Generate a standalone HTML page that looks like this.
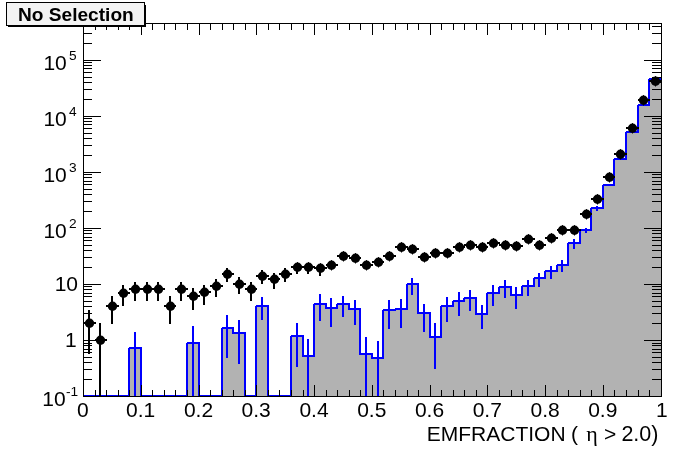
<!DOCTYPE html><html><head><meta charset="utf-8"><title>No Selection</title>
<style>html,body{margin:0;padding:0;background:#fff}svg{display:block}text{font-family:"Liberation Sans",Arial,Helvetica,sans-serif;fill:#000}.s{font-family:"Liberation Serif","DejaVu Serif",serif}</style></head><body>
<svg width="696" height="472" viewBox="0 0 696 472">
<rect width="696" height="472" fill="#fff"/>
<g shape-rendering="crispEdges">
<path d="M84,396H95V396H106V396H118V396H129V348H141V396H152V396H164V396H175V396H187V343H199V396H210V396H222V328H233V333H245V396H256V306H268V396H279V396H291V336H303V356H314V304H326V308H337V304H349V309H360V354H372V358H383V310H395V309H407V284H418V313H430V337H441V306H453V301H464V298H476V314H487V293H499V287H511V295H522V286H534V278H545V271H557V265H568V243H580V230H591V208H603V185H614V159H626V132H638V105H649V79H661V397H83Z" fill="#b2b2b2" stroke="none"/>
<path d="M84,396H95V396H106V396H118V396H129V348H141V396H152V396H164V396H175V396H187V343H199V396H210V396H222V328H233V333H245V396H256V306H268V396H279V396H291V336H303V356H314V304H326V308H337V304H349V309H360V354H372V358H383V310H395V309H407V284H418V313H430V337H441V306H453V301H464V298H476V314H487V293H499V287H511V295H522V286H534V278H545V271H557V265H568V243H580V230H591V208H603V185H614V159H626V132H638V105H649V79H661" fill="none" stroke="#0000ff" stroke-width="2" stroke-linejoin="miter"/>
<path d="M128,347h1v1h-1zM186,342h1v1h-1zM221,327h1v1h-1zM255,305h1v1h-1zM290,335h1v1h-1zM313,303h1v1h-1zM336,303h1v1h-1zM382,309h1v1h-1zM394,308h1v1h-1zM406,283h1v1h-1zM440,305h1v1h-1zM452,300h1v1h-1zM463,297h1v1h-1zM486,292h1v1h-1zM498,286h1v1h-1zM521,285h1v1h-1zM533,277h1v1h-1zM544,270h1v1h-1zM556,264h1v1h-1zM567,242h1v1h-1zM579,229h1v1h-1zM590,207h1v1h-1zM602,184h1v1h-1zM613,158h1v1h-1zM625,131h1v1h-1zM637,104h1v1h-1zM648,78h1v1h-1z" fill="#fff" stroke="none"/>
<line x1="135" x2="135" y1="332" y2="397" stroke="#0000ff" stroke-width="2"/>
<line x1="193" x2="193" y1="326" y2="397" stroke="#0000ff" stroke-width="2"/>
<line x1="227" x2="227" y1="315" y2="358" stroke="#0000ff" stroke-width="2"/>
<line x1="239" x2="239" y1="320" y2="364" stroke="#0000ff" stroke-width="2"/>
<line x1="262" x2="262" y1="297" y2="320" stroke="#0000ff" stroke-width="2"/>
<line x1="297" x2="297" y1="323" y2="367" stroke="#0000ff" stroke-width="2"/>
<line x1="308" x2="308" y1="339" y2="397" stroke="#0000ff" stroke-width="2"/>
<line x1="320" x2="320" y1="294" y2="321" stroke="#0000ff" stroke-width="2"/>
<line x1="331" x2="331" y1="298" y2="327" stroke="#0000ff" stroke-width="2"/>
<line x1="343" x2="343" y1="296" y2="317" stroke="#0000ff" stroke-width="2"/>
<line x1="355" x2="355" y1="300" y2="325" stroke="#0000ff" stroke-width="2"/>
<line x1="366" x2="366" y1="337" y2="397" stroke="#0000ff" stroke-width="2"/>
<line x1="378" x2="378" y1="341" y2="397" stroke="#0000ff" stroke-width="2"/>
<line x1="389" x2="389" y1="300" y2="329" stroke="#0000ff" stroke-width="2"/>
<line x1="401" x2="401" y1="299" y2="328" stroke="#0000ff" stroke-width="2"/>
<line x1="412" x2="412" y1="278" y2="295" stroke="#0000ff" stroke-width="2"/>
<line x1="424" x2="424" y1="304" y2="332" stroke="#0000ff" stroke-width="2"/>
<line x1="435" x2="435" y1="323" y2="369" stroke="#0000ff" stroke-width="2"/>
<line x1="447" x2="447" y1="297" y2="322" stroke="#0000ff" stroke-width="2"/>
<line x1="459" x2="459" y1="292" y2="316" stroke="#0000ff" stroke-width="2"/>
<line x1="470" x2="470" y1="290" y2="311" stroke="#0000ff" stroke-width="2"/>
<line x1="482" x2="482" y1="305" y2="329" stroke="#0000ff" stroke-width="2"/>
<line x1="493" x2="493" y1="285" y2="306" stroke="#0000ff" stroke-width="2"/>
<line x1="505" x2="505" y1="280" y2="298" stroke="#0000ff" stroke-width="2"/>
<line x1="516" x2="516" y1="287" y2="309" stroke="#0000ff" stroke-width="2"/>
<line x1="528" x2="528" y1="280" y2="296" stroke="#0000ff" stroke-width="2"/>
<line x1="539" x2="539" y1="273" y2="287" stroke="#0000ff" stroke-width="2"/>
<line x1="551" x2="551" y1="266" y2="279" stroke="#0000ff" stroke-width="2"/>
<line x1="562" x2="562" y1="260" y2="272" stroke="#0000ff" stroke-width="2"/>
<line x1="574" x2="574" y1="239" y2="249" stroke="#0000ff" stroke-width="2"/>
<line x1="586" x2="586" y1="228" y2="233" stroke="#0000ff" stroke-width="2"/>
<line x1="597" x2="597" y1="206" y2="211" stroke="#0000ff" stroke-width="2"/>
</g>
<g shape-rendering="crispEdges" stroke="#000" stroke-width="1" fill="none">
<rect x="83.5" y="23.5" width="578.0" height="373"/>
<path d="M83.5,396v-11M83.5,24v11M95.5,396v-6M95.5,24v6M106.5,396v-6M106.5,24v6M118.5,396v-6M118.5,24v6M129.5,396v-6M129.5,24v6M141.5,396v-11M141.5,24v11M152.5,396v-6M152.5,24v6M164.5,396v-6M164.5,24v6M175.5,396v-6M175.5,24v6M187.5,396v-6M187.5,24v6M199.5,396v-11M199.5,24v11M210.5,396v-6M210.5,24v6M222.5,396v-6M222.5,24v6M233.5,396v-6M233.5,24v6M245.5,396v-6M245.5,24v6M256.5,396v-11M256.5,24v11M268.5,396v-6M268.5,24v6M279.5,396v-6M279.5,24v6M291.5,396v-6M291.5,24v6M303.5,396v-6M303.5,24v6M314.5,396v-11M314.5,24v11M326.5,396v-6M326.5,24v6M337.5,396v-6M337.5,24v6M349.5,396v-6M349.5,24v6M360.5,396v-6M360.5,24v6M372.5,396v-11M372.5,24v11M383.5,396v-6M383.5,24v6M395.5,396v-6M395.5,24v6M407.5,396v-6M407.5,24v6M418.5,396v-6M418.5,24v6M430.5,396v-11M430.5,24v11M441.5,396v-6M441.5,24v6M453.5,396v-6M453.5,24v6M464.5,396v-6M464.5,24v6M476.5,396v-6M476.5,24v6M487.5,396v-11M487.5,24v11M499.5,396v-6M499.5,24v6M511.5,396v-6M511.5,24v6M522.5,396v-6M522.5,24v6M534.5,396v-6M534.5,24v6M545.5,396v-11M545.5,24v11M557.5,396v-6M557.5,24v6M568.5,396v-6M568.5,24v6M580.5,396v-6M580.5,24v6M591.5,396v-6M591.5,24v6M603.5,396v-11M603.5,24v11M614.5,396v-6M614.5,24v6M626.5,396v-6M626.5,24v6M638.5,396v-6M638.5,24v6M649.5,396v-6M649.5,24v6M661.5,396v-11M661.5,24v11M83.5,379.5h8M661.5,379.5h-10M83.5,369.5h8M661.5,369.5h-10M83.5,362.5h8M661.5,362.5h-10M83.5,357.5h8M661.5,357.5h-10M83.5,352.5h8M661.5,352.5h-10M83.5,349.5h8M661.5,349.5h-10M83.5,345.5h8M661.5,345.5h-10M83.5,343.5h8M661.5,343.5h-10M83.5,340.5h17M661.5,340.5h-18M83.5,323.5h8M661.5,323.5h-10M83.5,313.5h8M661.5,313.5h-10M83.5,306.5h8M661.5,306.5h-10M83.5,301.5h8M661.5,301.5h-10M83.5,296.5h8M661.5,296.5h-10M83.5,293.5h8M661.5,293.5h-10M83.5,289.5h8M661.5,289.5h-10M83.5,286.5h8M661.5,286.5h-10M83.5,284.5h17M661.5,284.5h-18M83.5,267.5h8M661.5,267.5h-10M83.5,257.5h8M661.5,257.5h-10M83.5,250.5h8M661.5,250.5h-10M83.5,245.5h8M661.5,245.5h-10M83.5,240.5h8M661.5,240.5h-10M83.5,237.5h8M661.5,237.5h-10M83.5,233.5h8M661.5,233.5h-10M83.5,230.5h8M661.5,230.5h-10M83.5,228.5h17M661.5,228.5h-18M83.5,211.5h8M661.5,211.5h-10M83.5,201.5h8M661.5,201.5h-10M83.5,194.5h8M661.5,194.5h-10M83.5,189.5h8M661.5,189.5h-10M83.5,184.5h8M661.5,184.5h-10M83.5,181.5h8M661.5,181.5h-10M83.5,177.5h8M661.5,177.5h-10M83.5,174.5h8M661.5,174.5h-10M83.5,172.5h17M661.5,172.5h-18M83.5,155.5h8M661.5,155.5h-10M83.5,145.5h8M661.5,145.5h-10M83.5,138.5h8M661.5,138.5h-10M83.5,133.5h8M661.5,133.5h-10M83.5,128.5h8M661.5,128.5h-10M83.5,124.5h8M661.5,124.5h-10M83.5,121.5h8M661.5,121.5h-10M83.5,118.5h8M661.5,118.5h-10M83.5,116.5h17M661.5,116.5h-18M83.5,99.5h8M661.5,99.5h-10M83.5,89.5h8M661.5,89.5h-10M83.5,82.5h8M661.5,82.5h-10M83.5,77.5h8M661.5,77.5h-10M83.5,72.5h8M661.5,72.5h-10M83.5,68.5h8M661.5,68.5h-10M83.5,65.5h8M661.5,65.5h-10M83.5,62.5h8M661.5,62.5h-10M83.5,60.5h17M661.5,60.5h-18M83.5,43.5h8M661.5,43.5h-10M83.5,33.5h8M661.5,33.5h-10M83.5,26.5h8M661.5,26.5h-10"/>
</g>
<g stroke="#000" stroke-width="2" fill="#000">
<path shape-rendering="crispEdges" d="M83,323H96M89,310V323M89,323V354" fill="none"/>
<circle cx="89.5" cy="323.3" r="4.7" stroke="none"/><path d="M89.5,318.1v10.4" stroke-width="1"/>
<path shape-rendering="crispEdges" d="M95,340H107M100,323V340M100,340V397" fill="none"/>
<circle cx="100.5" cy="340.3" r="4.7" stroke="none"/><path d="M100.5,335.1v10.4" stroke-width="1"/>
<path shape-rendering="crispEdges" d="M106,306H119M112,296V306M112,306V324" fill="none"/>
<circle cx="112.5" cy="306.3" r="4.7" stroke="none"/><path d="M112.5,301.1v10.4" stroke-width="1"/>
<path shape-rendering="crispEdges" d="M118,293H130M123,285V293M123,293V306" fill="none"/>
<circle cx="123.5" cy="293.3" r="4.7" stroke="none"/><path d="M123.5,288.1v10.4" stroke-width="1"/>
<path shape-rendering="crispEdges" d="M129,289H142M135,282V289M135,289V301" fill="none"/>
<circle cx="135.5" cy="289.3" r="4.7" stroke="none"/><path d="M135.5,284.1v10.4" stroke-width="1"/>
<path shape-rendering="crispEdges" d="M141,289H153M147,282V289M147,289V301" fill="none"/>
<circle cx="147.5" cy="289.3" r="4.7" stroke="none"/><path d="M147.5,284.1v10.4" stroke-width="1"/>
<path shape-rendering="crispEdges" d="M152,289H165M158,282V289M158,289V301" fill="none"/>
<circle cx="158.5" cy="289.3" r="4.7" stroke="none"/><path d="M158.5,284.1v10.4" stroke-width="1"/>
<path shape-rendering="crispEdges" d="M164,306H176M170,296V306M170,306V324" fill="none"/>
<circle cx="170.5" cy="306.3" r="4.7" stroke="none"/><path d="M170.5,301.1v10.4" stroke-width="1"/>
<path shape-rendering="crispEdges" d="M175,289H188M181,282V289M181,289V301" fill="none"/>
<circle cx="181.5" cy="289.3" r="4.7" stroke="none"/><path d="M181.5,284.1v10.4" stroke-width="1"/>
<path shape-rendering="crispEdges" d="M187,296H200M193,288V296M193,296V310" fill="none"/>
<circle cx="193.5" cy="296.3" r="4.7" stroke="none"/><path d="M193.5,291.1v10.4" stroke-width="1"/>
<path shape-rendering="crispEdges" d="M199,292H211M204,285V292M204,292V305" fill="none"/>
<circle cx="204.5" cy="292.3" r="4.7" stroke="none"/><path d="M204.5,287.1v10.4" stroke-width="1"/>
<path shape-rendering="crispEdges" d="M210,286H223M216,279V286M216,286V297" fill="none"/>
<circle cx="216.5" cy="286.3" r="4.7" stroke="none"/><path d="M216.5,281.1v10.4" stroke-width="1"/>
<path shape-rendering="crispEdges" d="M222,274H234M227,268V274M227,274V282" fill="none"/>
<circle cx="227.5" cy="274.3" r="4.7" stroke="none"/><path d="M227.5,269.1v10.4" stroke-width="1"/>
<path shape-rendering="crispEdges" d="M233,284H246M239,277V284M239,284V294" fill="none"/>
<circle cx="239.5" cy="284.3" r="4.7" stroke="none"/><path d="M239.5,279.1v10.4" stroke-width="1"/>
<path shape-rendering="crispEdges" d="M245,289H257M251,282V289M251,289V301" fill="none"/>
<circle cx="251.5" cy="289.3" r="4.7" stroke="none"/><path d="M251.5,284.1v10.4" stroke-width="1"/>
<path shape-rendering="crispEdges" d="M256,276H269M262,270V276M262,276V284" fill="none"/>
<circle cx="262.5" cy="276.3" r="4.7" stroke="none"/><path d="M262.5,271.1v10.4" stroke-width="1"/>
<path shape-rendering="crispEdges" d="M268,279H280M274,273V279M274,279V289" fill="none"/>
<circle cx="274.5" cy="279.3" r="4.7" stroke="none"/><path d="M274.5,274.1v10.4" stroke-width="1"/>
<path shape-rendering="crispEdges" d="M279,274H292M285,268V274M285,274V282" fill="none"/>
<circle cx="285.5" cy="274.3" r="4.7" stroke="none"/><path d="M285.5,269.1v10.4" stroke-width="1"/>
<path shape-rendering="crispEdges" d="M291,267H304M297,267V274" fill="none"/>
<circle cx="297.5" cy="267.3" r="4.7" stroke="none"/><path d="M297.5,262.1v10.4" stroke-width="1"/>
<path shape-rendering="crispEdges" d="M303,267H315M308,267V274" fill="none"/>
<circle cx="308.5" cy="267.3" r="4.7" stroke="none"/><path d="M308.5,262.1v10.4" stroke-width="1"/>
<path shape-rendering="crispEdges" d="M314,268H327M320,268V276" fill="none"/>
<circle cx="320.5" cy="268.3" r="4.7" stroke="none"/><path d="M320.5,263.1v10.4" stroke-width="1"/>
<path shape-rendering="crispEdges" d="M326,265H338" fill="none"/>
<circle cx="331.5" cy="265.3" r="4.7" stroke="none"/><path d="M331.5,260.1v10.4" stroke-width="1"/>
<path shape-rendering="crispEdges" d="M337,256H350" fill="none"/>
<circle cx="343.5" cy="256.3" r="4.7" stroke="none"/><path d="M343.5,251.1v10.4" stroke-width="1"/>
<path shape-rendering="crispEdges" d="M349,258H361" fill="none"/>
<circle cx="355.5" cy="258.3" r="4.7" stroke="none"/><path d="M355.5,253.1v10.4" stroke-width="1"/>
<path shape-rendering="crispEdges" d="M360,265H373" fill="none"/>
<circle cx="366.5" cy="265.3" r="4.7" stroke="none"/><path d="M366.5,260.1v10.4" stroke-width="1"/>
<path shape-rendering="crispEdges" d="M372,262H384" fill="none"/>
<circle cx="378.5" cy="262.3" r="4.7" stroke="none"/><path d="M378.5,257.1v10.4" stroke-width="1"/>
<path shape-rendering="crispEdges" d="M383,256H396" fill="none"/>
<circle cx="389.5" cy="256.3" r="4.7" stroke="none"/><path d="M389.5,251.1v10.4" stroke-width="1"/>
<path shape-rendering="crispEdges" d="M395,247H408" fill="none"/>
<circle cx="401.5" cy="247.3" r="4.7" stroke="none"/><path d="M401.5,242.1v10.4" stroke-width="1"/>
<path shape-rendering="crispEdges" d="M407,249H419" fill="none"/>
<circle cx="412.5" cy="249.3" r="4.7" stroke="none"/><path d="M412.5,244.1v10.4" stroke-width="1"/>
<path shape-rendering="crispEdges" d="M418,257H431" fill="none"/>
<circle cx="424.5" cy="257.3" r="4.7" stroke="none"/><path d="M424.5,252.1v10.4" stroke-width="1"/>
<path shape-rendering="crispEdges" d="M430,253H442" fill="none"/>
<circle cx="435.5" cy="253.3" r="4.7" stroke="none"/><path d="M435.5,248.1v10.4" stroke-width="1"/>
<path shape-rendering="crispEdges" d="M441,253H454" fill="none"/>
<circle cx="447.5" cy="253.3" r="4.7" stroke="none"/><path d="M447.5,248.1v10.4" stroke-width="1"/>
<path shape-rendering="crispEdges" d="M453,247H465" fill="none"/>
<circle cx="459.5" cy="247.3" r="4.7" stroke="none"/><path d="M459.5,242.1v10.4" stroke-width="1"/>
<path shape-rendering="crispEdges" d="M464,245H477" fill="none"/>
<circle cx="470.5" cy="245.3" r="4.7" stroke="none"/><path d="M470.5,240.1v10.4" stroke-width="1"/>
<path shape-rendering="crispEdges" d="M476,247H488" fill="none"/>
<circle cx="482.5" cy="247.3" r="4.7" stroke="none"/><path d="M482.5,242.1v10.4" stroke-width="1"/>
<path shape-rendering="crispEdges" d="M487,243H500" fill="none"/>
<circle cx="493.5" cy="243.3" r="4.7" stroke="none"/><path d="M493.5,238.1v10.4" stroke-width="1"/>
<path shape-rendering="crispEdges" d="M499,245H512" fill="none"/>
<circle cx="505.5" cy="245.3" r="4.7" stroke="none"/><path d="M505.5,240.1v10.4" stroke-width="1"/>
<path shape-rendering="crispEdges" d="M511,246H523" fill="none"/>
<circle cx="516.5" cy="246.3" r="4.7" stroke="none"/><path d="M516.5,241.1v10.4" stroke-width="1"/>
<path shape-rendering="crispEdges" d="M522,239H535" fill="none"/>
<circle cx="528.5" cy="239.3" r="4.7" stroke="none"/><path d="M528.5,234.1v10.4" stroke-width="1"/>
<path shape-rendering="crispEdges" d="M534,245H546" fill="none"/>
<circle cx="539.5" cy="245.3" r="4.7" stroke="none"/><path d="M539.5,240.1v10.4" stroke-width="1"/>
<path shape-rendering="crispEdges" d="M545,238H558" fill="none"/>
<circle cx="551.5" cy="238.3" r="4.7" stroke="none"/><path d="M551.5,233.1v10.4" stroke-width="1"/>
<path shape-rendering="crispEdges" d="M557,230H569" fill="none"/>
<circle cx="562.5" cy="230.3" r="4.7" stroke="none"/><path d="M562.5,225.1v10.4" stroke-width="1"/>
<path shape-rendering="crispEdges" d="M568,230H581" fill="none"/>
<circle cx="574.5" cy="230.3" r="4.7" stroke="none"/><path d="M574.5,225.1v10.4" stroke-width="1"/>
<path shape-rendering="crispEdges" d="M580,214H592" fill="none"/>
<circle cx="586.5" cy="214.3" r="4.7" stroke="none"/><path d="M586.5,209.1v10.4" stroke-width="1"/>
<path shape-rendering="crispEdges" d="M591,199H604" fill="none"/>
<circle cx="597.5" cy="199.3" r="4.7" stroke="none"/><path d="M597.5,194.1v10.4" stroke-width="1"/>
<path shape-rendering="crispEdges" d="M603,177H615" fill="none"/>
<circle cx="609.5" cy="177.3" r="4.7" stroke="none"/><path d="M609.5,172.1v10.4" stroke-width="1"/>
<path shape-rendering="crispEdges" d="M614,154H627" fill="none"/>
<circle cx="620.5" cy="154.3" r="4.7" stroke="none"/><path d="M620.5,149.1v10.4" stroke-width="1"/>
<path shape-rendering="crispEdges" d="M626,128H639" fill="none"/>
<circle cx="632.5" cy="128.3" r="4.7" stroke="none"/><path d="M632.5,123.1v10.4" stroke-width="1"/>
<path shape-rendering="crispEdges" d="M638,100H650" fill="none"/>
<circle cx="643.5" cy="100.3" r="4.7" stroke="none"/><path d="M643.5,95.1v10.4" stroke-width="1"/>
<path shape-rendering="crispEdges" d="M649,81H662" fill="none"/>
<circle cx="655.5" cy="81.3" r="4.7" stroke="none"/><path d="M655.5,76.1v10.4" stroke-width="1"/>
</g>
<g font-size="21px" text-anchor="middle">
<text x="82.9" y="416.7">0</text>
<text x="140.7" y="416.7">0.1</text>
<text x="198.5" y="416.7">0.2</text>
<text x="256.2" y="416.7">0.3</text>
<text x="314.0" y="416.7">0.4</text>
<text x="371.8" y="416.7">0.5</text>
<text x="429.5" y="416.7">0.6</text>
<text x="487.3" y="416.7">0.7</text>
<text x="545.1" y="416.7">0.8</text>
<text x="602.8" y="416.7">0.9</text>
<text x="661.8" y="416.7">1</text>
</g>
<g font-size="21px">
<text x="426.8" y="441">EMFRACTION</text>
<text x="570.9" y="441">(</text>
<text x="586.2" y="441" class="s" font-size="22px">η</text>
<text x="604" y="441">&gt;</text>
<text x="621.4" y="441" font-size="21.5px">2.0)</text>
</g>
<g font-size="21px" text-anchor="end">
<text x="65.6" y="406.1">10</text>
<text x="66" y="396.3" font-size="13.7px" text-anchor="start">-1</text>
<text x="76.6" y="346.8">1</text>
<text x="78" y="291.0">10</text>
<text x="66.8" y="238.1">10</text>
<text x="69" y="228.3" font-size="13.7px" text-anchor="start">2</text>
<text x="66.8" y="182.1">10</text>
<text x="69" y="172.3" font-size="13.7px" text-anchor="start">3</text>
<text x="66.8" y="126.1">10</text>
<text x="69" y="116.3" font-size="13.7px" text-anchor="start">4</text>
<text x="66.8" y="70.1">10</text>
<text x="69" y="60.3" font-size="13.7px" text-anchor="start">5</text>
</g>
<g shape-rendering="crispEdges"><rect x="8" y="5" width="138" height="22" fill="#000"/><rect x="6.5" y="2.5" width="138" height="23" fill="#f3f3f3" stroke="#000" stroke-width="1"/></g>
<text x="75.9" y="21" font-size="19.1px" font-weight="bold" text-anchor="middle">No Selection</text>
</svg></body></html>
